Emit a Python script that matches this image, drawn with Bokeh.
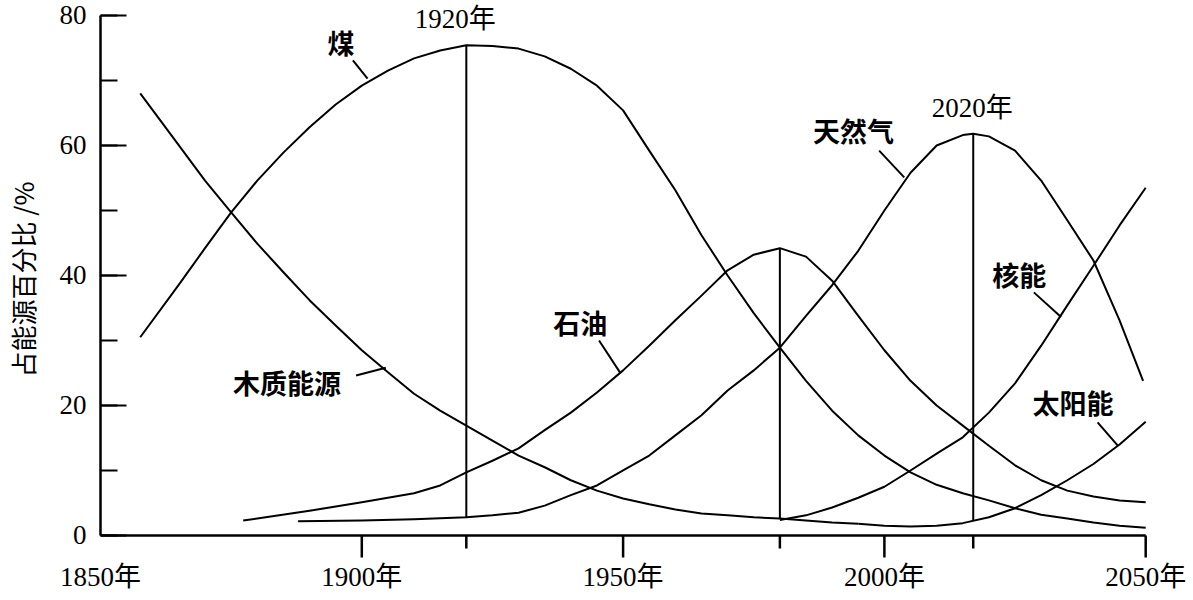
from bokeh.plotting import figure
from bokeh.models import Range1d, FixedTicker, SingleIntervalTicker
from bokeh.core.properties import value
from bokeh.embed import file_html
from bokeh.resources import INLINE

# ---------------- data ----------------
wood_years = [1857.6, 1865, 1870, 1875, 1880, 1885, 1890, 1895, 1900, 1905, 1910, 1915, 1920, 1925, 1930,
              1935, 1940, 1945, 1950, 1955, 1960, 1965, 1970, 1975, 1980, 1985, 1990, 1995]
wood_vals  = [68.0, 60.0, 54.6, 49.7, 44.9, 40.5, 36.2, 32.3, 28.5, 25.1, 21.8, 19.2, 16.9, 14.6, 12.3,
              10.5, 8.5, 6.9, 5.7, 4.8, 4.0, 3.4, 3.1, 2.8, 2.6, 2.3, 2.0, 1.8]

coal_years = [1857.6, 1865, 1870, 1875, 1880, 1885, 1890, 1895, 1900, 1905, 1910, 1915, 1920, 1925, 1930,
              1935, 1940, 1945, 1950, 1955, 1960, 1965, 1970, 1975, 1980, 1985, 1990, 1995, 2000, 2005,
              2010, 2015, 2020, 2025, 2030, 2035, 2040, 2045, 2050]
coal_vals  = [30.5, 38.6, 44.2, 49.7, 54.6, 58.9, 62.8, 66.3, 69.2, 71.5, 73.4, 74.6, 75.4, 75.3, 74.9,
              73.7, 71.8, 69.2, 65.4, 59.2, 53.1, 46.2, 40.0, 34.2, 28.9, 23.8, 19.2, 15.4, 12.3, 9.7,
              7.8, 6.5, 5.4, 4.2, 3.2, 2.6, 2.0, 1.5, 1.2]

oil_years = [1877.3, 1880, 1890, 1900, 1910, 1915, 1920, 1925, 1930, 1935, 1940, 1945, 1950, 1955, 1960,
             1965, 1970, 1975, 1980, 1985, 1990, 1995, 2000, 2005, 2010, 2015, 2020, 2025, 2030, 2035,
             2040, 2045, 2050]
oil_vals  = [2.3, 2.6, 3.8, 5.1, 6.5, 7.7, 9.7, 11.5, 13.4, 16.2, 18.9, 22.0, 25.4, 29.2, 33.1,
             36.9, 40.8, 43.2, 44.2, 42.9, 39.2, 33.8, 28.5, 23.8, 20.0, 16.9, 13.8, 10.8, 8.5, 6.9,
             6.0, 5.4, 5.1]

gas_years = [1887.8, 1900, 1910, 1920, 1925, 1930, 1935, 1940, 1945, 1950, 1955, 1960, 1965, 1970, 1975,
             1980, 1985, 1990, 1995, 2000, 2005, 2010, 2015, 2017, 2020, 2025, 2030, 2035, 2040, 2045, 2049.5]
gas_vals  = [2.2, 2.3, 2.5, 2.8, 3.1, 3.5, 4.6, 6.2, 7.7, 10.0, 12.3, 15.4, 18.5, 22.3, 25.4,
             28.9, 33.8, 38.5, 43.8, 50.0, 55.8, 60.0, 61.6, 61.8, 61.4, 59.2, 54.6, 48.5, 42.3, 33.1, 23.8]

nuclear_years = [1980, 1985, 1990, 1995, 2000, 2005, 2010, 2015, 2020, 2025, 2030, 2035, 2040, 2045, 2050]
nuclear_vals  = [2.4, 3.1, 4.3, 5.8, 7.5, 10.0, 12.6, 15.1, 18.9, 23.4, 29.2, 35.4, 41.5, 47.7, 53.5]

solar_years = [1995, 2000, 2005, 2010, 2015, 2020, 2025, 2030, 2035, 2040, 2045, 2050]
solar_vals  = [1.8, 1.5, 1.4, 1.5, 1.9, 2.8, 4.2, 6.2, 8.5, 11.0, 14.0, 17.5]

x_tick_years = [1850, 1900, 1950, 2000, 2050]
x_tick_labels = ["1850年", "1900年", "1950年", "2000年", "2050年"]
y_axis_title = "占能源百分比 /%"
peak_1920_label = "1920年"
peak_2020_label = "2020年"

# ---------------- helpers ----------------
def value_at(years, vals, yr):
    for i in range(len(years) - 1):
        if years[i] <= yr <= years[i + 1]:
            t = (yr - years[i]) / (years[i + 1] - years[i])
            return vals[i] + t * (vals[i + 1] - vals[i])
    return vals[-1]

def peak(years, vals):
    i = max(range(len(vals)), key=lambda k: vals[k])
    return years[i], vals[i]

NUM_FONT = "Liberation Serif, Noto Sans CJK SC"
CJK_FONT = "Noto Sans CJK SC"
NUM_SIZE = "27px"
PX_PER_UNIT = 6.5          # vertical scale of the picture (layout only)
Y_LOW = -23 / PX_PER_UNIT  # room below zero for the tick marks

p = figure(width=1193, height=600, output_backend="svg", toolbar_location=None,
           x_range=Range1d(1850, 2058), y_range=Range1d(Y_LOW, 82.3),
           min_border_left=97, min_border_right=6, min_border_top=0, min_border_bottom=42)
p.outline_line_color = None
p.grid.visible = False
p.background_fill_color = "white"

# y axis (real axis, line only from 0 to 80)
p.yaxis.bounds = (0, 80)
p.yaxis.axis_line_width = 2.5
p.yaxis.axis_line_color = "black"
p.yaxis.ticker = SingleIntervalTicker(interval=20, num_minor_ticks=2)
p.yaxis.major_tick_line_width = 2
p.yaxis.minor_tick_line_width = 2
p.yaxis.major_tick_line_color = "black"
p.yaxis.minor_tick_line_color = "black"
p.yaxis.major_tick_in = 26
p.yaxis.major_tick_out = 0
p.yaxis.minor_tick_in = 17
p.yaxis.minor_tick_out = 0
p.yaxis.major_label_text_font = NUM_FONT
p.yaxis.major_label_text_font_size = NUM_SIZE
p.yaxis.major_label_text_color = "black"
p.yaxis.major_label_standoff = 14
p.yaxis.axis_label = y_axis_title
p.yaxis.axis_label_text_font = CJK_FONT
p.yaxis.axis_label_text_font_style = "normal"
p.yaxis.axis_label_text_font_size = "26px"
p.yaxis.axis_label_text_color = "black"
p.yaxis.axis_label_standoff = 16

# x axis: real axis carries the tick labels; its line and ticks are drawn at y = 0
p.xaxis.ticker = FixedTicker(ticks=x_tick_years)
p.xaxis.major_label_overrides = {y: l for y, l in zip(x_tick_years, x_tick_labels)}
p.xaxis.axis_line_color = None
p.xaxis.major_tick_line_color = None
p.xaxis.minor_tick_line_color = None
p.xaxis.major_tick_in = 0
p.xaxis.major_tick_out = 0
p.xaxis.major_label_standoff = 3
p.xaxis.major_label_text_font = NUM_FONT
p.xaxis.major_label_text_font_size = NUM_SIZE
p.xaxis.major_label_text_color = "black"

p.segment(x0=[x_tick_years[0]], y0=[0], x1=[x_tick_years[-1]], y1=[0], line_color="black", line_width=2.5)
tick_years = x_tick_years[1:]
p.segment(x0=tick_years, y0=[0] * len(tick_years), x1=tick_years, y1=[-22 / PX_PER_UNIT] * len(tick_years),
          line_color="black", line_width=2.5)

LW = 2
for ys, vs in [(wood_years, wood_vals), (coal_years, coal_vals), (oil_years, oil_vals),
               (gas_years, gas_vals), (nuclear_years, nuclear_vals), (solar_years, solar_vals)]:
    p.line(ys, vs, line_color="black", line_width=LW, line_join="round")

# vertical peak lines (from the lowest curve to the peak) and their short ticks below the axis
px1, pv1 = peak(coal_years, coal_vals)
px2, pv2 = peak(oil_years, oil_vals)
px3, pv3 = peak(gas_years, gas_vals)
peak_x = [px1, px2, px3]
bottoms = [value_at(gas_years, gas_vals, px1), value_at(wood_years, wood_vals, px2),
           value_at(solar_years, solar_vals, px3)]
p.segment(x0=peak_x, y0=bottoms, x1=peak_x, y1=[pv1, pv2, pv3], line_color="black", line_width=LW)
p.segment(x0=peak_x, y0=[0] * 3, x1=peak_x, y1=[-13 / PX_PER_UNIT] * 3, line_color="black", line_width=2.5)

# labels and leader lines (layout)
labels = [
    ("煤",       1896.0, 75.8, (1898.3, 73.1, 1901.1, 70.3)),
    ("天然气",   1994.1, 62.3, (1999.0, 59.2, 2003.8, 55.1)),
    ("石油",     1941.8, 32.8, (1945.4, 30.0, 1949.4, 25.1)),
    ("木质能源", 1885.7, 23.5, (1898.9, 24.6, 1904.6, 25.8)),
    ("核能",     2025.8, 40.2, (2028.6, 37.4, 2033.8, 33.6)),
    ("太阳能",   2036.1, 20.5, (2040.8, 17.4, 2044.7, 13.8)),
]
for txt, lx, ly, (a, b, c, d) in labels:
    p.text(x=[lx], y=[ly], text=[txt], text_font=value(CJK_FONT), text_font_style="bold",
           text_font_size="27px", text_align="center", text_baseline="middle", text_color="black")
    p.segment(x0=[a], y0=[b], x1=[c], y1=[d], line_color="black", line_width=LW)

p.text(x=[1917.9], y=[79.5], text=[peak_1920_label], text_font=value(NUM_FONT),
       text_font_size=NUM_SIZE, text_align="center", text_baseline="middle", text_color="black")
p.text(x=[2016.8], y=[65.7], text=[peak_2020_label], text_font=value(NUM_FONT),
       text_font_size=NUM_SIZE, text_align="center", text_baseline="middle", text_color="black")

open("out.html", "w").write(file_html(p, INLINE))
